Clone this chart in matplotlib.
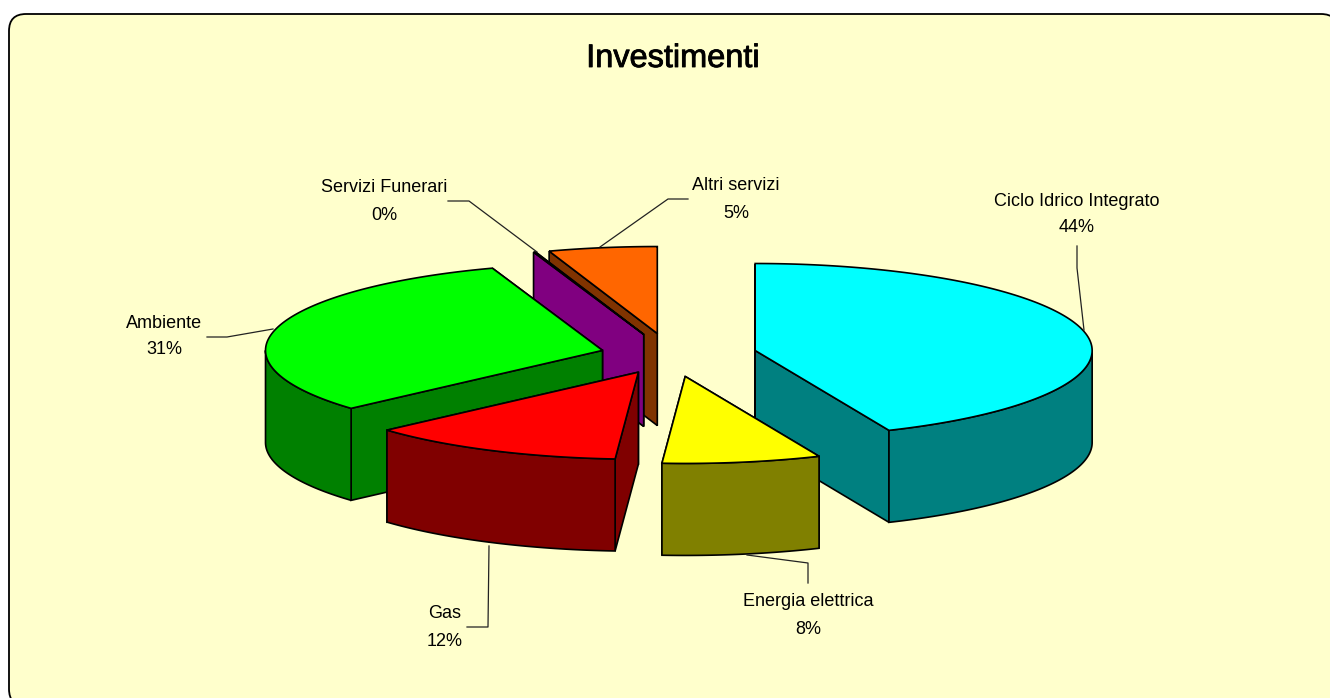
"""
* Investimenti --- exploded 3d-look pie, projected by hand
*   since matplotlib pie has no depth.
"""

import numpy as np

import matplotlib
matplotlib.use("Agg")
import matplotlib.pyplot as plt
import matplotlib.patheffects as pe
from matplotlib.patches import FancyBboxPatch, Polygon

labels = ["Ciclo Idrico Integrato", "Energia elettrica", "Gas",
          "Ambiente", "Servizi Funerari", "Altri servizi"]
shares = [43.5, 7.6, 12.3, 31.3, 0.1, 5.2]
title_text = "Investimenti"

top_cols = ["#00FFFF", "#FFFF00", "#FF0000", "#00FF00", "#800080", "#FF6600"]
wall_cols = ["#008080", "#808000", "#800000", "#008000", "#800080", "#803300"]
explode = [0.255, 0.25, 0.22, 0.21, 0.25, 0.25]

#------------------------------------ projection, in pixels

CX, CY = 671.0, 355.0
RX, RY = 337.0, 87.0
DEPTH = 92.0
LW = 1.2


def rim(ax0, ay0, theta):
    # clockwise from 12 o'clock, theta in degrees
    rad = np.radians(theta)
    return np.column_stack((ax0 + RX * np.sin(rad), ay0 - RY * np.cos(rad)))


def patch(axi, pts, color):
    axi.add_patch(Polygon(pts, closed=True, facecolor=color,
                          edgecolor="k", linewidth=LW, joinstyle="miter"))


def draw_slice(axi, apex, ang0, ang1, top, wall):
    down = np.array([0.0, DEPTH])
    for ang in (ang1, ang0):            # radial walls, back one first
        edge = rim(apex[0], apex[1], np.array([ang]))[0]
        patch(axi, [apex, edge, edge + down, apex + down], wall)

    lo, hi = max(ang0, 90.0), min(ang1, 270.0)
    if hi > lo:                         # outer wall, front half only
        arc = rim(apex[0], apex[1], np.linspace(lo, hi, 80))
        patch(axi, np.vstack((arc, arc[::-1] + down)), wall)

    arc = rim(apex[0], apex[1], np.linspace(ang0, ang1, 160))
    patch(axi, np.vstack((apex, arc)), top)


fig = plt.figure(figsize=(13.3, 6.98), dpi=100, facecolor="white")
axi = fig.add_axes([0, 0, 1, 1])
axi.set_xlim(0, 1330)
axi.set_ylim(698, 0)
axi.axis("off")

plt.rcParams["font.family"] = ["Liberation Sans", "DejaVu Sans"]

#------------------------------------ chart area

axi.add_patch(FancyBboxPatch((9, 14), 1329, 692,
                             boxstyle="round,pad=0,rounding_size=17",
                             facecolor="#FFFFCC", edgecolor="k",
                             linewidth=1.3))

#------------------------------------ slices, back to front

edges = np.cumsum([0.0] + shares) / np.sum(shares) * 360.0
mids = 0.5 * (edges[:-1] + edges[1:])
apexes = [np.array([CX + e * RX * np.sin(np.radians(m)),
                    CY - e * RY * np.cos(np.radians(m))])
          for e, m in zip(explode, mids)]

for i in sorted(range(len(shares)), key=lambda k: apexes[k][1]):
    draw_slice(axi, apexes[i], edges[i], edges[i + 1],
               top_cols[i], wall_cols[i])

#------------------------------------ leader lines and labels

leaders = [
    [(1077, 246), (1077, 268), (1084, 330)],
    [(808, 583), (808, 563), (747, 555)],
    [(467, 627), (488, 627), (489, 546)],
    [(207, 337), (227, 337), (273, 329)],
    [(448, 201), (469, 201), (537, 252)],
    [(688, 199), (668, 199), (600, 247)]]
label_pos = [(1077, 201), (808, 602), (445, 614),
             (164, 323), (384, 188), (736, 186)]

for name, val, line, pos in zip(labels, shares, leaders, label_pos):
    xy = np.array(line)
    axi.plot(xy[:, 0], xy[:, 1], color="#222222", linewidth=0.9)
    axi.text(pos[0], pos[1], name, ha="center", va="center",
             fontsize=13.0, color="k")
    axi.text(pos[0], pos[1] + 27, f"{val:.0f}%", ha="center", va="center",
             fontsize=13.0, color="k")

axi.text(673, 59, title_text, ha="center", va="center", fontsize=23.4,
         color="k",
         path_effects=[pe.withStroke(linewidth=0.6, foreground="k")])

fig.savefig("out.png", dpi=100)
